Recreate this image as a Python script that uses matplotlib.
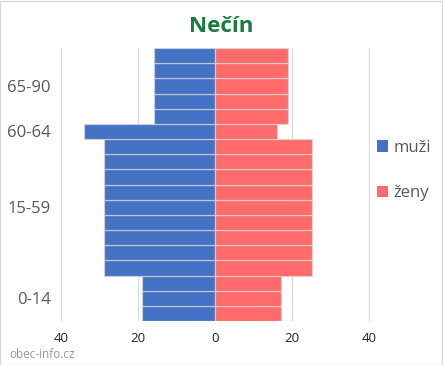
import matplotlib
matplotlib.use('Agg')
import matplotlib.pyplot as plt
from matplotlib.patches import Patch, Rectangle
import numpy as np

plt.rcParams['font.family'] = ['Open Sans', 'DejaVu Sans']

# data
groups = ['0-14', '15-59', '60-64', '65-90']
group_rows = [3, 9, 1, 5]
muzi = [19, 29, 34, 16]
zeny = [17, 25, 16, 19]
xticks = [-40, -20, 0, 20, 40]

BLUE = '#4472C4'
RED = '#FF6B6B'

fig = plt.figure(figsize=(4.43, 3.65), dpi=100)
ax = fig.add_axes([0.1365, 0.1205, 0.699, 0.748])

# jeden řádek na každý dílek
row_m, row_z, centers = [], [], []
start = 0
for n, m, z in zip(group_rows, muzi, zeny):
    row_m += [m] * n
    row_z += [z] * n
    centers.append(start + (n - 1) / 2)
    start += n
y = np.arange(len(row_m))

ax.barh(y, -np.array(row_m), height=1.0, color=BLUE,
        edgecolor=(0.85, 0.85, 0.85, 0.7), linewidth=0.9, zorder=2)
ax.barh(y, row_z, height=1.0, color=RED,
        edgecolor=(0.85, 0.85, 0.85, 0.7), linewidth=0.9, zorder=2)

for g in [-40, -20, 20, 40]:
    ax.axvline(g, color='#d9d9d9', linewidth=0.9, zorder=1)

ax.set_xlim(-40.2, 40.2)
ax.set_ylim(-0.5, len(row_m) - 0.5)
ax.set_xticks(xticks)
ax.set_xticklabels([str(abs(t)) for t in xticks], fontsize=9.5, color='#262626')
ax.set_yticks(centers)
ax.set_yticklabels(groups, fontsize=12, color='#595959')
ax.tick_params(axis='x', length=0, pad=8)
ax.tick_params(axis='y', length=0, pad=7)
for s in ax.spines.values():
    s.set_visible(False)

fig.text(0.5, 0.928, 'Nečín', ha='center', va='center', fontsize=16,
         fontweight='bold', color='#1B7A3E')

handles = [Patch(facecolor=BLUE, label='muži'), Patch(facecolor=RED, label='ženy')]
fig.legend(handles=handles, loc='center left', bbox_to_anchor=(0.818, 0.533),
           frameon=False, fontsize=12, labelcolor='#595959', handlelength=0.65,
           handleheight=0.65, handletextpad=0.3, labelspacing=1.75)

fig.text(0.022, 0.01, 'obec-info.cz', fontsize=8.5, color='#999999', ha='left', va='bottom')

fig.patches.append(Rectangle((0.001, 0.001), 0.997, 0.997, transform=fig.transFigure,
                             fill=False, edgecolor='#d9d9d9', linewidth=1))

plt.savefig('out.png', dpi=100, facecolor='white')
plt.close()
